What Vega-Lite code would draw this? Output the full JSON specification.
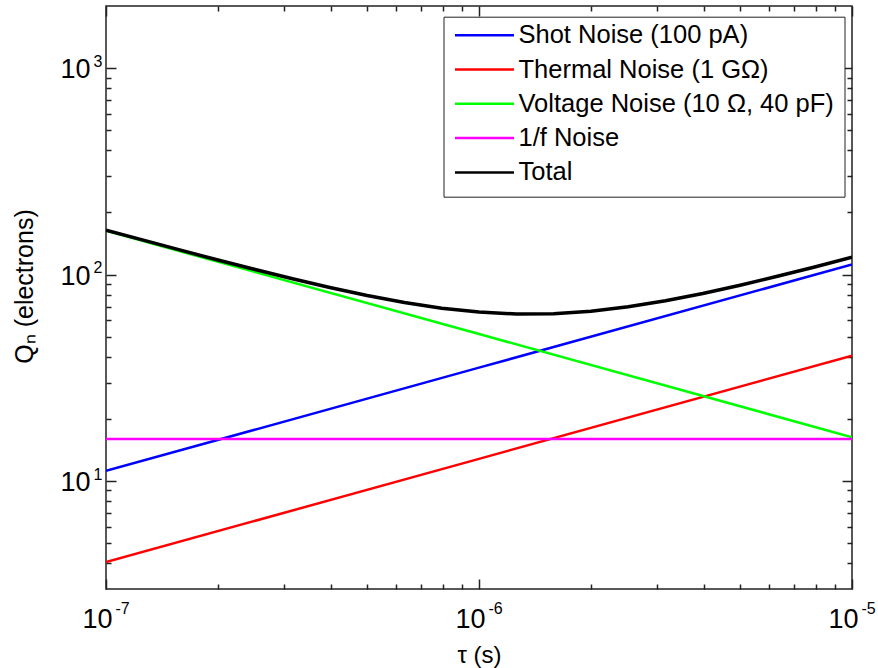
{
  "$schema": "https://vega.github.io/schema/vega-lite/v6.json",
  "width": 746,
  "height": 583,
  "autosize": {"type": "none"},
  "padding": {"left": 106, "top": 6, "right": 26, "bottom": 79},
  "background": "#ffffff",
  "config": {
    "view": {"stroke": "#222222", "strokeWidth": 1.5},
    "axis": {
      "grid": false,
      "domain": false,
      "labelFont": "Liberation Sans",
      "titleFont": "Liberation Sans",
      "labelColor": "#000000",
      "titleColor": "#000000",
      "tickColor": "#222222",
      "tickWidth": 1.5,
      "labelFlush": false,
      "labelOverlap": false,
      "labelBound": false
    }
  },
  "data": {
    "values": [
      {"tau": 1e-7, "series": "Shot Noise (100 pA)", "q": 11.2},
      {"tau": 1e-6, "series": "Shot Noise (100 pA)", "q": 35.42},
      {"tau": 1e-5, "series": "Shot Noise (100 pA)", "q": 112.0},
      {"tau": 1e-7, "series": "Thermal Noise (1 GΩ)", "q": 4.05},
      {"tau": 1e-6, "series": "Thermal Noise (1 GΩ)", "q": 12.81},
      {"tau": 1e-5, "series": "Thermal Noise (1 GΩ)", "q": 40.5},
      {"tau": 1e-7, "series": "Voltage Noise (10 Ω, 40 pF)", "q": 163.0},
      {"tau": 1e-6, "series": "Voltage Noise (10 Ω, 40 pF)", "q": 51.54},
      {"tau": 1e-5, "series": "Voltage Noise (10 Ω, 40 pF)", "q": 16.3},
      {"tau": 1e-7, "series": "1/f Noise", "q": 16.0},
      {"tau": 1e-6, "series": "1/f Noise", "q": 16.0},
      {"tau": 1e-5, "series": "1/f Noise", "q": 16.0},
      {"tau": 1e-7, "series": "Total", "q": 164.2},
      {"tau": 1.2589e-7, "series": "Total", "q": 146.8},
      {"tau": 1.5849e-7, "series": "Total", "q": 131.3},
      {"tau": 1.9953e-7, "series": "Total", "q": 117.7},
      {"tau": 2.5119e-7, "series": "Total", "q": 105.8},
      {"tau": 3.1623e-7, "series": "Total", "q": 95.43},
      {"tau": 3.9811e-7, "series": "Total", "q": 86.57},
      {"tau": 5.0119e-7, "series": "Total", "q": 79.17},
      {"tau": 6.3096e-7, "series": "Total", "q": 73.23},
      {"tau": 7.9433e-7, "series": "Total", "q": 68.76},
      {"tau": 1e-6, "series": "Total", "q": 65.81},
      {"tau": 1.2589e-6, "series": "Total", "q": 64.44},
      {"tau": 1.5849e-6, "series": "Total", "q": 64.66},
      {"tau": 1.9953e-6, "series": "Total", "q": 66.47},
      {"tau": 2.5119e-6, "series": "Total", "q": 69.83},
      {"tau": 3.1623e-6, "series": "Total", "q": 74.71},
      {"tau": 3.9811e-6, "series": "Total", "q": 81.06},
      {"tau": 5.0119e-6, "series": "Total", "q": 88.85},
      {"tau": 6.3096e-6, "series": "Total", "q": 98.12},
      {"tau": 7.9433e-6, "series": "Total", "q": 108.9},
      {"tau": 1e-5, "series": "Total", "q": 121.3}
    ]
  },
  "resolve": {"axis": {"x": "independent", "y": "independent"}},
  "layer": [
    {
      "transform": [{"filter": "datum.series !== 'Total'"}],
      "mark": {"type": "line", "strokeWidth": 2.5, "clip": true},
      "encoding": {
        "x": {
          "field": "tau", "type": "quantitative",
          "scale": {"type": "log", "domain": [1e-7, 1e-5], "nice": false},
          "axis": {
            "orient": "bottom", "values": [1e-7, 1e-6, 1e-5], "labelExpr": "'10'",
            "ticks": false, "labelFontSize": 27, "labelAlign": "right",
            "labelBaseline": "alphabetic", "labelPadding": 38, "labelOffset": 6,
            "title": "τ (s)", "titleFontSize": 24, "titleFontWeight": "normal",
            "titleX": 373, "titleY": 73, "titleBaseline": "alphabetic", "titleAlign": "center"
          }
        },
        "y": {
          "field": "q", "type": "quantitative",
          "scale": {"type": "log", "domain": [3, 2000], "nice": false},
          "axis": {
            "orient": "left", "values": [10, 100, 1000], "labelExpr": "'10'",
            "ticks": false, "labelFontSize": 27, "labelAlign": "right",
            "labelBaseline": "alphabetic", "labelPadding": 16, "labelOffset": 9.5,
            "title": "Qₙ (electrons)", "titleFontSize": 25, "titleFontWeight": "normal",
            "titleAngle": 270, "titleX": -74, "titleY": 280,
            "titleBaseline": "alphabetic", "titleAlign": "center"
          }
        },
        "color": {
          "field": "series", "type": "nominal",
          "scale": {
            "domain": ["Shot Noise (100 pA)", "Thermal Noise (1 GΩ)", "Voltage Noise (10 Ω, 40 pF)", "1/f Noise", "Total"],
            "range": ["#0000ff", "#ff0000", "#00ff00", "#ff00ff", "#000000"]
          },
          "legend": {
            "orient": "none", "legendX": 337.5, "legendY": 10.7, "title": null,
            "symbolType": "stroke", "symbolSize": 3481, "symbolStrokeWidth": 2.5,
            "clipHeight": 17, "rowPadding": 8.3, "padding": 10,
            "labelFont": "Liberation Sans", "labelFontSize": 25.5, "labelColor": "#000000",
            "labelOffset": 3, "labelLimit": 0,
            "strokeColor": "#222222", "fillColor": "#ffffff"
          }
        }
      }
    },
    {
      "transform": [{"filter": "datum.series === 'Total'"}],
      "mark": {"type": "line", "strokeWidth": 3.5, "color": "#000000", "clip": true},
      "encoding": {
        "x": {
          "field": "tau", "type": "quantitative",
          "scale": {"type": "log", "domain": [1e-7, 1e-5], "nice": false},
          "axis": {
            "orient": "bottom", "values": [1e-7, 1e-6, 1e-5],
            "labelExpr": "'' + round(log(datum.value) / LN10)",
            "ticks": false, "labelFontSize": 16, "labelAlign": "left",
            "labelBaseline": "alphabetic", "labelPadding": 24, "labelOffset": 9, "title": null
          }
        },
        "y": {
          "field": "q", "type": "quantitative",
          "scale": {"type": "log", "domain": [3, 2000], "nice": false},
          "axis": {
            "orient": "left", "values": [10, 100, 1000],
            "labelExpr": "'' + round(log(datum.value) / LN10)",
            "ticks": false, "labelFontSize": 16, "labelAlign": "left",
            "labelBaseline": "alphabetic", "labelPadding": 13, "labelOffset": -2, "title": null
          }
        }
      }
    },
    {
      "mark": {"type": "point", "opacity": 0},
      "encoding": {
        "x": {
          "field": "tau", "type": "quantitative",
          "scale": {"type": "log", "domain": [1e-7, 1e-5], "nice": false},
          "axis": {"orient": "bottom", "values": [1e-7, 1e-6, 1e-5], "labels": false, "tickSize": -10, "title": null}
        },
        "y": {
          "field": "q", "type": "quantitative",
          "scale": {"type": "log", "domain": [3, 2000], "nice": false},
          "axis": {"orient": "left", "values": [10, 100, 1000], "labels": false, "tickSize": -10, "title": null}
        }
      }
    },
    {
      "mark": {"type": "point", "opacity": 0},
      "encoding": {
        "x": {
          "field": "tau", "type": "quantitative",
          "scale": {"type": "log", "domain": [1e-7, 1e-5], "nice": false},
          "axis": {
            "orient": "bottom",
            "values": [2e-7, 3e-7, 4e-7, 5e-7, 6e-7, 7e-7, 8e-7, 9e-7, 2e-6, 3e-6, 4e-6, 5e-6, 6e-6, 7e-6, 8e-6, 9e-6],
            "labels": false, "tickSize": -5, "title": null
          }
        },
        "y": {
          "field": "q", "type": "quantitative",
          "scale": {"type": "log", "domain": [3, 2000], "nice": false},
          "axis": {
            "orient": "left",
            "values": [4, 5, 6, 7, 8, 9, 20, 30, 40, 50, 60, 70, 80, 90, 200, 300, 400, 500, 600, 700, 800, 900],
            "labels": false, "tickSize": -5, "title": null
          }
        }
      }
    },
    {
      "mark": {"type": "point", "opacity": 0},
      "encoding": {
        "x": {
          "field": "tau", "type": "quantitative",
          "scale": {"type": "log", "domain": [1e-7, 1e-5], "nice": false},
          "axis": {"orient": "top", "values": [1e-7, 1e-6, 1e-5], "labels": false, "tickSize": -10, "title": null}
        },
        "y": {
          "field": "q", "type": "quantitative",
          "scale": {"type": "log", "domain": [3, 2000], "nice": false},
          "axis": {"orient": "right", "values": [10, 100, 1000], "labels": false, "tickSize": -10, "title": null}
        }
      }
    },
    {
      "mark": {"type": "point", "opacity": 0},
      "encoding": {
        "x": {
          "field": "tau", "type": "quantitative",
          "scale": {"type": "log", "domain": [1e-7, 1e-5], "nice": false},
          "axis": {
            "orient": "top",
            "values": [2e-7, 3e-7, 4e-7, 5e-7, 6e-7, 7e-7, 8e-7, 9e-7, 2e-6, 3e-6, 4e-6, 5e-6, 6e-6, 7e-6, 8e-6, 9e-6],
            "labels": false, "tickSize": -5, "title": null
          }
        },
        "y": {
          "field": "q", "type": "quantitative",
          "scale": {"type": "log", "domain": [3, 2000], "nice": false},
          "axis": {
            "orient": "right",
            "values": [4, 5, 6, 7, 8, 9, 20, 30, 40, 50, 60, 70, 80, 90, 200, 300, 400, 500, 600, 700, 800, 900],
            "labels": false, "tickSize": -5, "title": null
          }
        }
      }
    }
  ]
}
